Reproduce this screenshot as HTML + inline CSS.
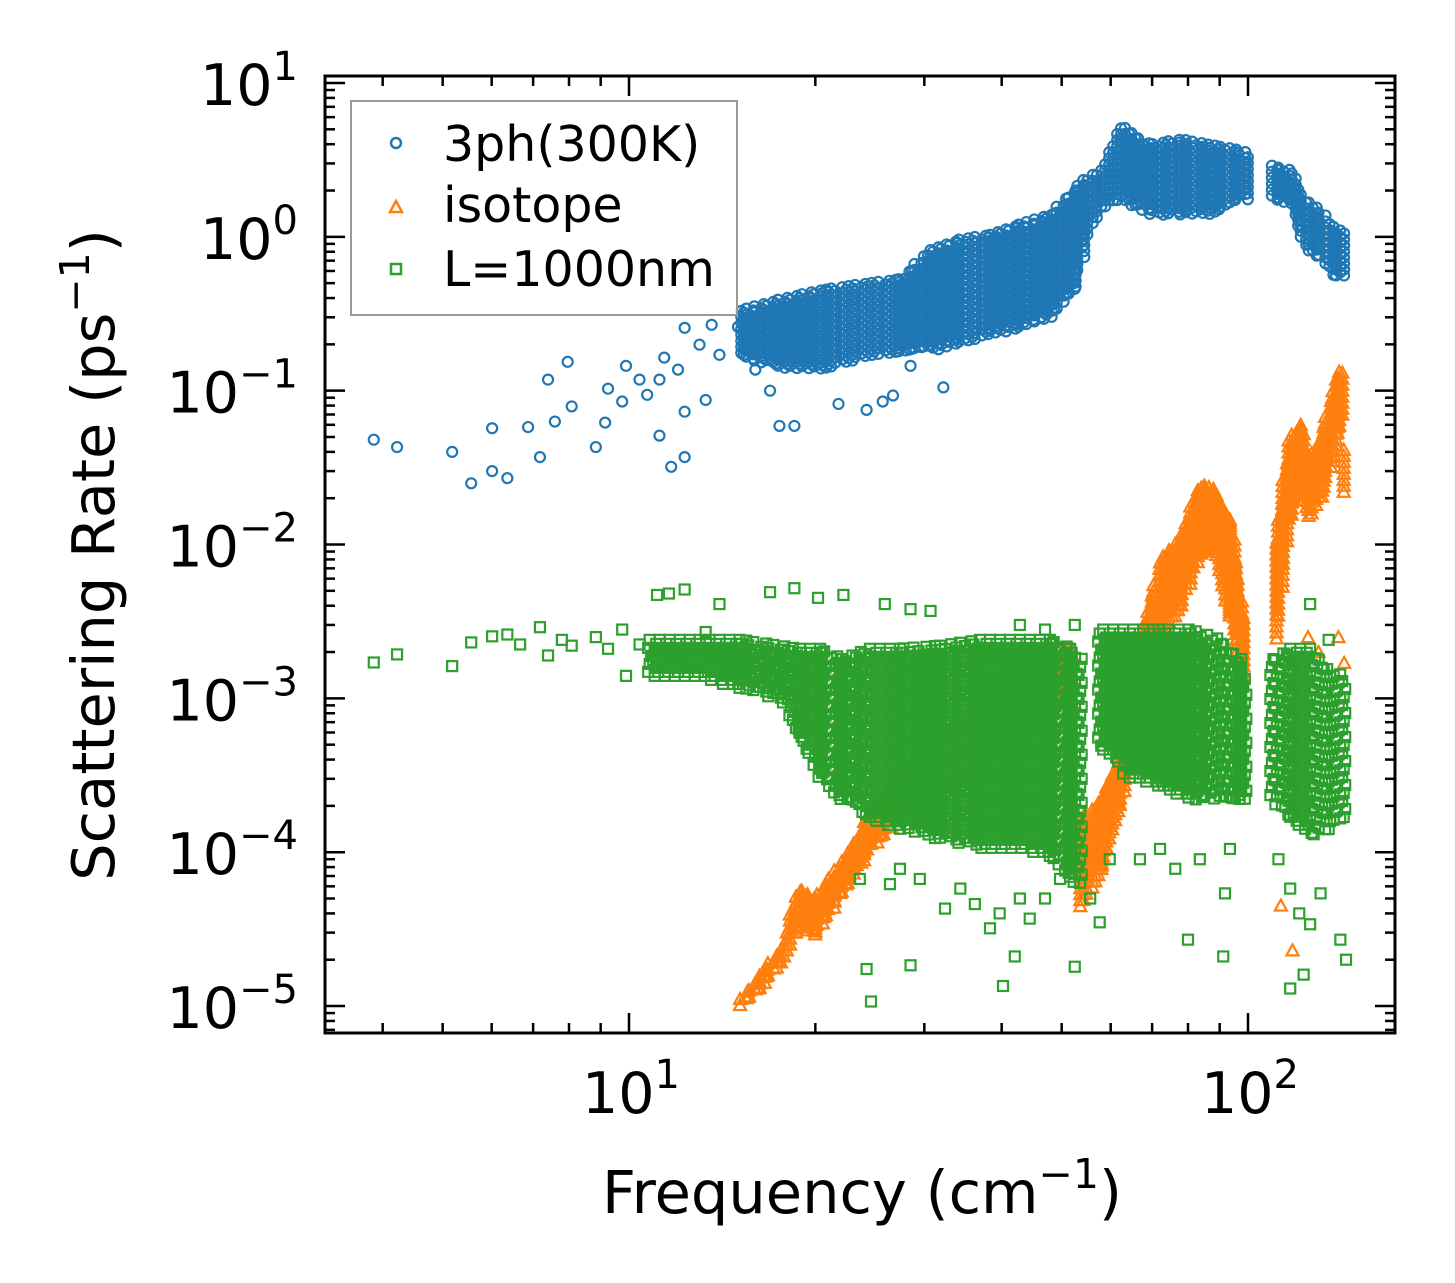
<!DOCTYPE html>
<html><head><meta charset="utf-8"><style>
html,body{margin:0;padding:0;background:#fff;}
svg{display:block;font-family:"DejaVu Sans","Liberation Sans",sans-serif;}
</style></head><body>
<svg id="chart" width="1455" height="1283" viewBox="0 0 1455 1283">
<rect x="0" y="0" width="1455" height="1283" fill="#fff"/>
<g id="marks"></g>
<g id="axes"></g>
<g id="legend">
<rect x="351" y="101" width="386" height="214" fill="#fff" fill-opacity="0.8" stroke="#999" stroke-width="2"/>
<circle cx="396" cy="143" r="5" fill="none" stroke="#1f77b4" stroke-width="2.5"/>
<text x="443" y="161" font-size="49" fill="#000">3ph(300K)</text>
<path d="M396,201 L402,212 L390,212 Z" fill="none" stroke="#ff7f0e" stroke-width="2.5"/>
<text x="443" y="222" font-size="49" fill="#000">isotope</text>
<rect x="391" y="264" width="10" height="10" fill="none" stroke="#2ca02c" stroke-width="2.5"/>
<text x="443" y="286" font-size="49" fill="#000">L=1000nm</text>
</g>
</svg>
<script>
// ---- data ----
const xTickValues = [10, 100];
const xTickLabels = ["1", "2"];
const yTickValues = [1e1, 1e0, 1e-1, 1e-2, 1e-3, 1e-4, 1e-5];
const yTickLabels = ["1", "0", "\u22121", "\u22122", "\u22123", "\u22124", "\u22125"];

const blueFreq = [3.87,4.22,5.18,5.56,6.01,6.01,6.36,6.87,7.18,7.40,7.59,7.96,8.08,8.84,9.25,9.15,9.75,9.89,10.4,10.7,11.2,11.2,11.4,11.7,12.0,12.3,12.3,12.3,13.0,13.3,13.6,14.0,15.0,15.4,16.0,16.9,17.5,18.5,21.8,24.2,25.7,26.7,32.2,28.5];
const blueRate = [0.048,0.043,0.040,0.025,0.057,0.030,0.027,0.058,0.037,0.118,0.063,0.154,0.079,0.043,0.103,0.062,0.085,0.145,0.118,0.094,0.051,0.118,0.164,0.032,0.137,0.073,0.037,0.256,0.199,0.087,0.268,0.171,0.26,0.185,0.137,0.10,0.059,0.059,0.082,0.075,0.085,0.093,0.105,0.145];
// dense band envelopes (null splits segments)
const blueBandFreq = [15.1,17.5,20.4,23.6,27.4,30.7,34.3,38.3,42.8,47.9,52.5,54.5,57.6,62.0,69.4,77.7,86.7,97.0,100.5,null,109.3,117,123.5,130.7,138,143];
const blueBandHigh = [0.33,0.39,0.45,0.49,0.53,0.82,0.96,1.03,1.2,1.39,2.02,2.34,2.7,5.3,3.96,4.3,3.96,3.67,3.4,null,2.9,2.7,1.74,1.5,1.1,1.1];
const blueBandLow  = [0.17,0.137,0.137,0.16,0.18,0.18,0.2,0.23,0.25,0.29,0.45,0.82,1.5,1.74,1.39,1.39,1.39,1.74,1.74,null,1.74,1.6,0.82,0.71,0.53,0.56];

const orangeBandFreq = [15.2,16.3,17.5,18.9,20.0,21.1,22.8,24.5,26.4,29.5,34.3,39.7,46.1,49.7,52.5,null,53.9,57.7,62.1,66.9,72.1,77.6,83.6,88.4,93.5,98.9,null,110.6,117,121,126,131,138,142,145];
const orangeBandHigh = [1.11e-5,1.6e-5,2.3e-5,5.8e-5,5.0e-5,6.7e-5,1.05e-4,1.77e-4,2.6e-4,4.0e-4,7.3e-4,1.15e-3,1.54e-3,2.1e-3,2.1e-3,null,1.64e-4,2.2e-4,4.0e-4,2.1e-3,8.0e-3,1.08e-2,2.45e-2,2.3e-2,1.45e-2,3.3e-3,null,1.08e-2,4.8e-2,6.0e-2,3.6e-2,4.8e-2,0.118,0.137,1.45e-2];
const orangeBandLow  = [0.99e-5,1.3e-5,1.9e-5,3.2e-5,2.9e-5,4.0e-5,6.7e-5,1.05e-4,1.4e-4,2.2e-4,3.0e-4,4.7e-4,7.3e-4,9.9e-4,7.3e-4,null,4.3e-5,7.8e-5,1.9e-4,7.3e-4,2.4e-3,3.8e-3,8.0e-3,1.08e-2,3.3e-3,1.33e-3,null,2.4e-3,1.45e-2,2.6e-2,1.45e-2,1.96e-2,4.1e-2,6.5e-2,8.0e-3];
const orangeFreq = [125,130,140,143,113,118];
const orangeRate = [2.5e-3,2.0e-3,2.5e-3,1.7e-3,4.5e-5,2.3e-5];

const greenFreq = [3.87,4.22,5.18,5.56,6.01,6.36,6.67,7.18,7.40,7.79,8.08,8.84,9.25,9.75,9.89,10.4,11.1,11.6,12.3,13.3,14.0,16.9,18.5,20.2,22.2,25.9,28.5,30.7,24.2,24.6,28.5,40.2,42.0,52.5,57.6,80.0,91.2,112,117,123,
  23.6,26.4,27.4,29.5,32.4,34.3,36.2,38.3,39.7,42.8,44.4,47.0,49.7,55.6,59.8,66.9,72.1,76.3,83.6,91.8,93.5,117,121,126,131,141,144,42.8,47.0,52.5,126,135];
const greenRate = [1.71e-3,1.93e-3,1.62e-3,2.31e-3,2.53e-3,2.6e-3,2.24e-3,2.9e-3,1.9e-3,2.4e-3,2.2e-3,2.5e-3,2.1e-3,2.8e-3,1.4e-3,2.24e-3,4.7e-3,4.8e-3,5.1e-3,2.7e-3,4.1e-3,4.9e-3,5.2e-3,4.5e-3,4.7e-3,4.1e-3,3.8e-3,3.7e-3,1.74e-5,1.07e-5,1.84e-5,1.35e-5,2.1e-5,1.8e-5,3.5e-5,2.7e-5,2.1e-5,9e-5,1.3e-5,1.6e-5,
  6.7e-5,6.2e-5,7.8e-5,6.7e-5,4.3e-5,5.8e-5,4.6e-5,3.2e-5,4.0e-5,5.0e-5,3.7e-5,5.0e-5,6.7e-5,5.0e-5,9.0e-5,9.0e-5,1.05e-4,7.8e-5,9.0e-5,5.4e-5,1.05e-4,5.8e-5,4.0e-5,3.4e-5,5.4e-5,2.7e-5,2.0e-5,3.0e-3,2.8e-3,3.0e-3,4.1e-3,2.4e-3];
const greenBandFreq = [10.8,13.0,15.1,17.5,18.9,20.4,22.0,24.5,27.4,31.8,36.9,42.8,47.9,51.6,53.6,null,57.6,64.4,72.1,80.8,90.0,97.0,100.5,null,109.3,117,126,135,145];
const greenBandHigh = [2.4e-3,2.4e-3,2.4e-3,2.2e-3,2.1e-3,2.1e-3,1.8e-3,2.1e-3,2.1e-3,2.2e-3,2.4e-3,2.4e-3,2.4e-3,2.1e-3,1.8e-3,null,2.8e-3,2.8e-3,2.8e-3,2.8e-3,2.4e-3,1.8e-3,1.15e-3,null,1.8e-3,2.1e-3,2.1e-3,1.55e-3,1.33e-3];
const greenBandLow  = [1.33e-3,1.33e-3,1.15e-3,9.9e-4,5.4e-4,3.0e-4,2.2e-4,1.64e-4,1.4e-4,1.21e-4,1.05e-4,1.05e-4,9.0e-5,6.7e-5,5.8e-5,null,4.7e-4,3.0e-4,2.6e-4,2.2e-4,2.2e-4,2.2e-4,2.2e-4,null,2.2e-4,1.64e-4,1.21e-4,1.4e-4,1.64e-4];

// ---- axes ----
const X0=325, X1=1395, Y0=76, Y1=1033;
const xLogMin = 1 - (629-X0)/619, xLogMax = 2 + (X1-1248)/619;
const yLogTop = 1 + (83-Y0)/154, yLogBot = -5 - (Y1-1006)/154;
function xs(v){ return X0 + (Math.log10(v)-xLogMin)/(xLogMax-xLogMin)*(X1-X0); }
function ys(v){ return Y0 + (yLogTop-Math.log10(v))/(yLogTop-yLogBot)*(Y1-Y0); }

const NS="http://www.w3.org/2000/svg";
const marks=document.getElementById('marks');
const axes=document.getElementById('axes');
function mk(tag,attrs,parent){const e=document.createElementNS(NS,tag);for(const k in attrs)e.setAttribute(k,attrs[k]);parent.appendChild(e);return e;}

function marker(kind,cx,cy,g){
  let e;
  if(kind==='circle'){e=mk('circle',{cx:cx,cy:cy,r:5,fill:'none',stroke:'#1f77b4','stroke-width':2.2},g);}
  else if(kind==='tri'){e=mk('path',{d:`M${cx},${cy-6} L${cx+6},${cy+5} L${cx-6},${cy+5} Z`,fill:'none',stroke:'#ff7f0e','stroke-width':2.2},g);}
  else {e=mk('rect',{x:cx-5,y:cy-5,width:10,height:10,fill:'none',stroke:'#2ca02c','stroke-width':2.2},g);}
  return e;
}
function drawBand(freq,hi,lo,kind,g,dx,dy){
  let seg=[];const segs=[];
  for(let i=0;i<freq.length;i++){ if(freq[i]===null){segs.push(seg);seg=[];} else seg.push(i); }
  segs.push(seg);
  let k=0;
  segs.forEach(s=>{
    for(let j=0;j<s.length-1;j++){
      const a=s[j],b=s[j+1];
      const xa=xs(freq[a]),xb=xs(freq[b]);
      for(let x=xa;x<xb;x+=dx){
        const t=(x-xa)/(xb-xa);
        const yt=ys(hi[a])+(ys(hi[b])-ys(hi[a]))*t;
        const yb=ys(lo[a])+(ys(lo[b])-ys(lo[a]))*t;
        const off=(k++%2)*dy/2;
        for(let y=yt+off;y<=yb;y+=dy){
          const m=marker(kind,x+((Math.round(y)%3)-1)*1.5,y,g);
          
          
        }
      }
    }
  });
}
function drawPts(fx,ry,kind,g,name){
  fx.forEach((f,i)=>{const m=marker(kind,xs(f),ys(ry[i]),g);
    
    });
}

const clip=mk('clipPath',{id:'cp'},marks);mk('rect',{x:X0,y:Y0,width:X1-X0,height:Y1-Y0},clip);
const gB=mk('g',{'clip-path':'url(#cp)'},marks);


const gO=mk('g',{'clip-path':'url(#cp)'},marks);


const gG=mk('g',{'clip-path':'url(#cp)'},marks);



drawPts(blueFreq,blueRate,'circle',gB,'point-3ph');
drawBand(blueBandFreq,blueBandHigh,blueBandLow,'circle',gB,4,6);
drawBand(orangeBandFreq,orangeBandHigh,orangeBandLow,'tri',gO,3,6);
drawPts(orangeFreq,orangeRate,'tri',gO,'point-isotope');
drawBand(greenBandFreq,greenBandHigh,greenBandLow,'square',gG,5,8);
drawPts(greenFreq,greenRate,'square',gG,'point-l1000nm');

// frame
const fr=mk('rect',{x:X0,y:Y0,width:X1-X0,height:Y1-Y0,fill:'none',stroke:'#000','stroke-width':3},axes);


for(let d=0;d<=2;d++){for(let m=1;m<10;m++){
  const v=m*Math.pow(10,d); const x=xs(v); if(x<X0||x>X1)continue;
  const L=m===1?20:10;
  mk('line',{x1:x,y1:Y1,x2:x,y2:Y1-L,stroke:'#000','stroke-width':2.5},axes);
  mk('line',{x1:x,y1:Y0,x2:x,y2:Y0+L,stroke:'#000','stroke-width':2.5},axes);
}}
for(let d=-6;d<=1;d++){for(let m=1;m<10;m++){
  const v=m*Math.pow(10,d); const y=ys(v); if(y<Y0||y>Y1)continue;
  const L=m===1?20:10;
  mk('line',{x1:X0,y1:y,x2:X0+L,y2:y,stroke:'#000','stroke-width':2.5},axes);
  mk('line',{x1:X1,y1:y,x2:X1-L,y2:y,stroke:'#000','stroke-width':2.5},axes);
}}
xTickValues.forEach((v,i)=>{
  const t=mk('text',{x:xs(v)+2,y:1113,'font-size':57,'text-anchor':'middle',fill:'#000'},axes);
  t.innerHTML=`10<tspan dy="-25" font-size="40">${xTickLabels[i]}</tspan>`;
  
  
});
yTickValues.forEach((v,i)=>{
  const t=mk('text',{x:298,y:ys(v)+22,'font-size':57,'text-anchor':'end',fill:'#000'},axes);
  t.innerHTML=`10<tspan dy="-25" font-size="40">${yTickLabels[i]}</tspan>`;
  
  
});
const xt=mk('text',{x:862,y:1213,'font-size':59,'text-anchor':'middle',fill:'#000'},axes);
xt.innerHTML='Frequency (cm<tspan dy="-25" font-size="41">\u22121</tspan><tspan dy="25">)</tspan>';


const yt=mk('text',{x:0,y:0,'font-size':59,'text-anchor':'middle',fill:'#000',transform:'translate(114,555) rotate(-90)'},axes);
yt.innerHTML='Scattering Rate (ps<tspan dy="-25" font-size="41">\u22121</tspan><tspan dy="25">)</tspan>';


</script>
</body></html>
